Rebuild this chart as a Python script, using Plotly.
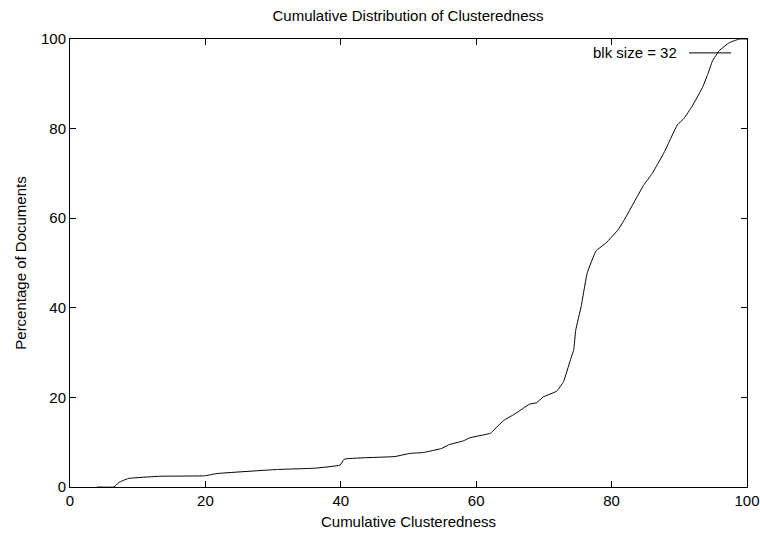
import plotly.graph_objects as go

clusteredness = [4.0, 6.5, 7.2, 8.6, 13.3, 19.9, 21.7, 30.5, 36.2, 39.9, 40.5, 48.0, 50.2,
                 52.2, 54.9, 55.9, 58.1, 59.1, 61.3, 62.1, 64.0, 65.7, 67.9, 68.9, 69.9,
                 71.9, 72.9, 73.9, 74.4, 74.7, 75.5, 76.4, 77.7, 79.2, 81.0, 82.2, 84.7,
                 86.0, 87.7, 89.7, 90.7, 91.9, 93.4, 94.2, 94.9, 95.9, 97.4, 98.9, 100.0]
percentage = [0.0, 0.0, 1.0, 1.9, 2.4, 2.5, 3.0, 3.9, 4.2, 4.9, 6.2, 6.8, 7.5,
              7.7, 8.6, 9.4, 10.3, 11.0, 11.7, 12.0, 14.8, 16.3, 18.5, 18.8, 20.1,
              21.4, 23.5, 28.3, 30.6, 35.0, 40.3, 47.8, 52.7, 54.5, 57.5, 60.5, 67.3,
              70.0, 74.5, 80.8, 82.3, 85.0, 89.1, 92.1, 95.1, 97.4, 99.2, 100.0, 100.0]
series_name = "blk size = 32"
tick_vals = [0, 20, 40, 60, 80, 100]

FONT = "Liberation Sans"
FS = 15

fig = go.Figure()
fig.add_trace(go.Scatter(x=clusteredness, y=percentage, mode="lines",
                         line=dict(color="black", width=1, shape="spline", smoothing=0.3),
                         name=series_name, showlegend=False))

axis_common = dict(showgrid=False, zeroline=False, showline=True, linecolor="black",
                   linewidth=1, mirror="allticks", ticks="inside", ticklen=6,
                   tickcolor="black", tickvals=tick_vals, automargin=False,
                   tickfont=dict(family=FONT, size=FS, color="black"))

fig.update_layout(
    width=760, height=538, autosize=False,
    paper_bgcolor="white", plot_bgcolor="white",
    margin=dict(l=70, r=13, t=39, b=51),
    title=dict(text="Cumulative Distribution of Clusteredness", x=408/760, xanchor="center",
               y=1 - 16/538, yanchor="middle",
               font=dict(family=FONT, size=FS, color="black")),
    xaxis=dict(range=[0, 100], title=dict(text="Cumulative Clusteredness", standoff=8,
               font=dict(family=FONT, size=FS, color="black")), **axis_common),
    yaxis=dict(range=[0, 100], title=dict(text="Percentage of Documents", standoff=10,
               font=dict(family=FONT, size=FS, color="black")), **axis_common),
    font=dict(family=FONT, size=FS, color="black"),
)

leg_y = 1 - (52.9 - 39) / 448
fig.add_annotation(text=series_name, xref="paper", yref="paper", x=(679 - 70) / 677, y=leg_y,
                   xanchor="right", yanchor="middle", showarrow=False,
                   font=dict(family=FONT, size=FS, color="black"))
fig.add_shape(type="line", xref="paper", yref="paper", x0=(689 - 70) / 677, x1=(731 - 70) / 677,
              y0=leg_y, y1=leg_y, line=dict(color="black", width=1))

fig.write_html("out.html", config={"responsive": False, "displayModeBar": False},
               post_script="document.body.style.margin='0';document.body.style.overflow='hidden';")
